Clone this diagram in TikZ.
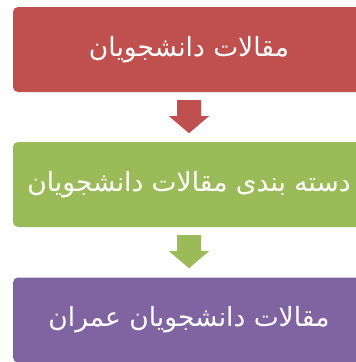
\documentclass[tikz,border=0pt]{standalone}
\usepackage{fontspec}
\TeXXeTstate=1
\newfontfamily\arabicfont[Script=Arabic]{DejaVu Sans}
\definecolor{boxred}{HTML}{C0504D}
\definecolor{boxgreen}{HTML}{9BBB59}
\definecolor{boxpurple}{HTML}{8064A2}
\tikzset{
  flowbox/.style={rectangle, rounded corners=5pt, minimum width=352pt, minimum height=85pt,
    inner sep=0pt, text=white, font=\arabicfont\fontsize{26.5}{30}\selectfont},
}
\newcommand{\blockarrow}[2]{% colour, top-centre coordinate name
  \fill[#1] ($(#2)+(-12pt,0)$) -- ($(#2)+(12pt,0)$) -- ($(#2)+(12pt,-16pt)$) -- ($(#2)+(20pt,-16pt)$)
   -- ($(#2)+(0,-33pt)$) -- ($(#2)+(-20pt,-16pt)$) -- ($(#2)+(-12pt,-16pt)$) -- cycle;}
\usetikzlibrary{calc}
\begin{document}
\begin{tikzpicture}[x=1pt,y=-1pt]
\useasboundingbox (0,0) rectangle (356,362);
\clip (0,0) rectangle (356,362);
\node[flowbox, fill=boxred] (b1) at (189,49.5) {\beginR مقالات دانشجویان\endR};
\node[flowbox, fill=boxgreen] (b2) at (189,184.5) {\beginR دسته بندی مقالات دانشجویان\endR};
\node[flowbox, fill=boxpurple] (b3) at (189,320) {\beginR مقالات دانشجویان عمران\endR};
\coordinate (a1) at ($(b1.south)+(0,-8pt)$);
\coordinate (a2) at ($(b2.south)+(0,-8pt)$);
\blockarrow{boxred}{a1}
\blockarrow{boxgreen}{a2}
\end{tikzpicture}
\end{document}
